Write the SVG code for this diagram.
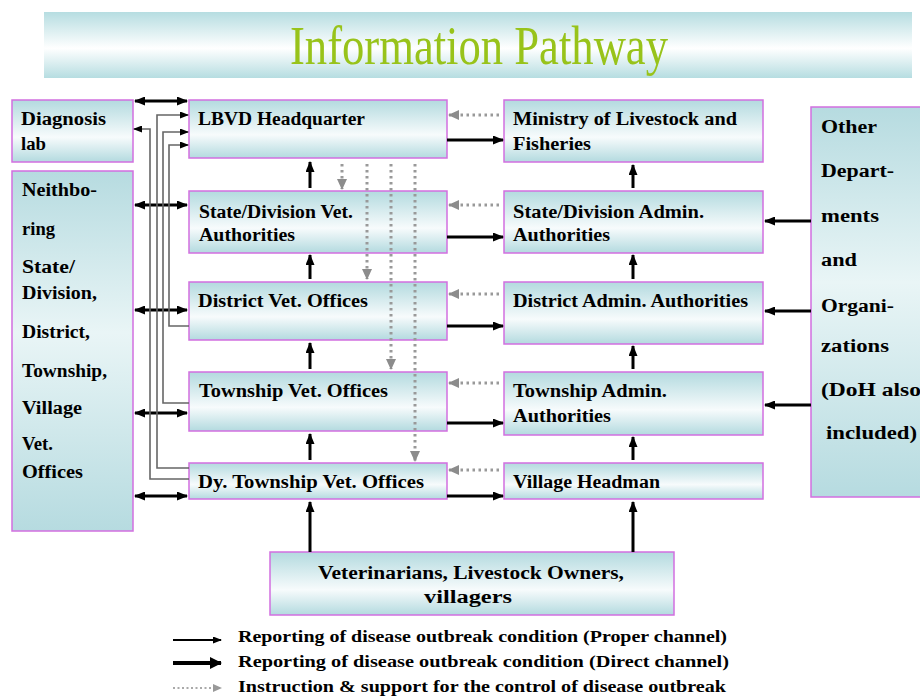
<svg xmlns="http://www.w3.org/2000/svg" width="920" height="696" viewBox="0 0 920 696">
  <defs>
    <linearGradient id="boxFill" x1="0" y1="0" x2="0" y2="1">
      <stop offset="0" stop-color="#b3dadf"/>
      <stop offset="0.6" stop-color="#f7fbfc"/>
      <stop offset="1" stop-color="#b3dadf"/>
    </linearGradient>
    <linearGradient id="tallFill" x1="0" y1="0" x2="0" y2="1">
      <stop offset="0" stop-color="#b6dbe0"/>
      <stop offset="0.45" stop-color="#e9f5f6"/>
      <stop offset="1" stop-color="#b6dbe0"/>
    </linearGradient>
    <linearGradient id="bannerFill" x1="0" y1="0" x2="0" y2="1">
      <stop offset="0" stop-color="#b6dde1"/>
      <stop offset="0.55" stop-color="#ffffff"/>
      <stop offset="1" stop-color="#b6dde1"/>
    </linearGradient>
    <marker id="ah" markerUnits="userSpaceOnUse" markerWidth="11" markerHeight="9" refX="10" refY="4.5" orient="auto-start-reverse">
      <path d="M0,0 L11,4.5 L0,9 z" fill="#000"/>
    </marker>
    <marker id="ahs" markerUnits="userSpaceOnUse" markerWidth="9" markerHeight="7" refX="8" refY="3.5" orient="auto-start-reverse">
      <path d="M0,0 L9,3.5 L0,7 z" fill="#000"/>
    </marker>
    <marker id="ahl" markerUnits="userSpaceOnUse" markerWidth="12" markerHeight="12" refX="11" refY="6" orient="auto">
      <path d="M0,0 L12,6 L0,12 z" fill="#000"/>
    </marker>
    <marker id="ahg" markerUnits="userSpaceOnUse" markerWidth="11" markerHeight="10" refX="10" refY="5" orient="auto">
      <path d="M0,0 L11,5 L0,10 z" fill="#8c8c8c"/>
    </marker>
    <marker id="ahgs" markerUnits="userSpaceOnUse" markerWidth="9" markerHeight="8" refX="8" refY="4" orient="auto">
      <path d="M0,0 L9,4 L0,8 z" fill="#999"/>
    </marker>
  </defs>
  <style>
    .box { fill: url(#boxFill); stroke: #d26fe0; stroke-width: 1.5; }
    .tall { fill: url(#tallFill); stroke: #d26fe0; stroke-width: 1.5; }
    text { font-family: "Liberation Serif", "Times New Roman", serif; }
    .lbl, .side { font-weight: bold; font-size: 18px; fill: #000; }
    .leg { font-weight: bold; font-size: 17px; fill: #000; }
    .solid { stroke: #000; stroke-width: 3; fill: none; marker-end: url(#ah); }
    .both { stroke: #000; stroke-width: 3; fill: none; marker-start: url(#ah); marker-end: url(#ah); }
    .thinarrow { stroke: #666; stroke-width: 1.6; fill: none; marker-end: url(#ahs); }
    .dot { stroke: #999; stroke-width: 3; fill: none; stroke-dasharray: 2.5 3.5; marker-end: url(#ahg); }
  </style>

  <rect width="920" height="696" fill="#ffffff"/>

  <!-- title banner -->
  <g id="title">
    <rect x="44" y="12" width="868" height="66" fill="url(#bannerFill)"/>
    <text x="290" y="64" textLength="378" lengthAdjust="spacingAndGlyphs" font-size="54" fill="#98c31a">Information Pathway</text>
  </g>

  <!-- left side boxes -->
  <g id="diagnosis-lab">
    <rect class="box" x="12" y="100" width="121" height="62"/>
    <text class="lbl" x="21" y="125" textLength="85" lengthAdjust="spacingAndGlyphs">Diagnosis</text>
    <text class="lbl" x="21" y="150" textLength="25" lengthAdjust="spacingAndGlyphs">lab</text>
  </g>
  <g id="neighbouring-offices">
    <rect class="tall" x="12" y="171" width="121" height="360"/>
    <text class="side" x="22" y="196" textLength="75" lengthAdjust="spacingAndGlyphs">Neithbo-</text>
    <text class="side" x="22" y="235" textLength="33" lengthAdjust="spacingAndGlyphs">ring</text>
    <text class="side" x="22" y="273" textLength="53" lengthAdjust="spacingAndGlyphs">State/</text>
    <text class="side" x="22" y="299" textLength="75" lengthAdjust="spacingAndGlyphs">Division,</text>
    <text class="side" x="22" y="338" textLength="68" lengthAdjust="spacingAndGlyphs">District,</text>
    <text class="side" x="22" y="377" textLength="85" lengthAdjust="spacingAndGlyphs">Township,</text>
    <text class="side" x="22" y="414" textLength="60" lengthAdjust="spacingAndGlyphs">Village</text>
    <text class="side" x="22" y="450" textLength="31" lengthAdjust="spacingAndGlyphs">Vet.</text>
    <text class="side" x="22" y="478" textLength="61" lengthAdjust="spacingAndGlyphs">Offices</text>
  </g>

  <!-- veterinary column -->
  <g id="lbvd-hq">
    <rect class="box" x="189" y="100" width="258" height="58"/>
    <text class="lbl" x="198" y="125" textLength="167" lengthAdjust="spacingAndGlyphs">LBVD Headquarter</text>
  </g>
  <g id="state-vet">
    <rect class="box" x="189" y="191" width="258" height="62"/>
    <text class="lbl" x="199" y="218" textLength="154" lengthAdjust="spacingAndGlyphs">State/Division Vet.</text>
    <text class="lbl" x="199" y="241" textLength="96" lengthAdjust="spacingAndGlyphs">Authorities</text>
  </g>
  <g id="district-vet">
    <rect class="box" x="189" y="282" width="258" height="58"/>
    <text class="lbl" x="198" y="307" textLength="170" lengthAdjust="spacingAndGlyphs">District Vet. Offices</text>
  </g>
  <g id="township-vet">
    <rect class="box" x="189" y="372" width="258" height="59"/>
    <text class="lbl" x="199" y="397" textLength="189" lengthAdjust="spacingAndGlyphs">Township Vet. Offices</text>
  </g>
  <g id="dy-township-vet">
    <rect class="box" x="189" y="463" width="258" height="36"/>
    <text class="lbl" x="198" y="488" textLength="226" lengthAdjust="spacingAndGlyphs">Dy. Township Vet. Offices</text>
  </g>

  <!-- administration column -->
  <g id="ministry">
    <rect class="box" x="504" y="100" width="259" height="62"/>
    <text class="lbl" x="513" y="125" textLength="224" lengthAdjust="spacingAndGlyphs">Ministry of Livestock  and</text>
    <text class="lbl" x="513" y="150" textLength="78" lengthAdjust="spacingAndGlyphs">Fisheries</text>
  </g>
  <g id="state-admin">
    <rect class="box" x="504" y="191" width="259" height="62"/>
    <text class="lbl" x="513" y="218" textLength="191" lengthAdjust="spacingAndGlyphs">State/Division Admin.</text>
    <text class="lbl" x="513" y="241" textLength="97" lengthAdjust="spacingAndGlyphs">Authorities</text>
  </g>
  <g id="district-admin">
    <rect class="box" x="504" y="282" width="259" height="62"/>
    <text class="lbl" x="513" y="307" textLength="235" lengthAdjust="spacingAndGlyphs">District Admin. Authorities</text>
  </g>
  <g id="township-admin">
    <rect class="box" x="504" y="372" width="259" height="63"/>
    <text class="lbl" x="513" y="397" textLength="154" lengthAdjust="spacingAndGlyphs">Township Admin.</text>
    <text class="lbl" x="513" y="422" textLength="98" lengthAdjust="spacingAndGlyphs">Authorities</text>
  </g>
  <g id="village-headman">
    <rect class="box" x="504" y="463" width="259" height="36"/>
    <text class="lbl" x="513" y="488" textLength="147" lengthAdjust="spacingAndGlyphs">Village Headman</text>
  </g>

  <!-- other departments -->
  <g id="other-departments">
    <rect class="tall" x="811" y="107" width="115" height="390"/>
    <text class="side" x="821" y="133" textLength="56" lengthAdjust="spacingAndGlyphs">Other</text>
    <text class="side" x="821" y="177" textLength="73" lengthAdjust="spacingAndGlyphs">Depart-</text>
    <text class="side" x="821" y="222" textLength="58" lengthAdjust="spacingAndGlyphs">ments</text>
    <text class="side" x="821" y="266" textLength="36" lengthAdjust="spacingAndGlyphs">and</text>
    <text class="side" x="821" y="312" textLength="73" lengthAdjust="spacingAndGlyphs">Organi-</text>
    <text class="side" x="821" y="352" textLength="68" lengthAdjust="spacingAndGlyphs">zations</text>
    <text class="side" x="821" y="396" textLength="100" lengthAdjust="spacingAndGlyphs">(DoH also</text>
    <text class="side" x="826" y="439" textLength="91" lengthAdjust="spacingAndGlyphs">included)</text>
  </g>

  <!-- field level -->
  <g id="field-level">
    <rect class="box" x="270" y="552" width="404" height="63"/>
    <text class="lbl" x="318" y="579" textLength="306" lengthAdjust="spacingAndGlyphs">Veterinarians, Livestock Owners,</text>
    <text class="lbl" x="424" y="603" textLength="88" lengthAdjust="spacingAndGlyphs">villagers</text>
  </g>

  <g id="connectors">
    <!-- upward reporting, veterinary column -->
    <line class="solid" x1="310" y1="188" x2="310" y2="162"/>
    <line class="solid" x1="310" y1="279" x2="310" y2="255"/>
    <line class="solid" x1="310" y1="369" x2="310" y2="343"/>
    <line class="solid" x1="310" y1="460" x2="310" y2="434"/>
    <line class="solid" x1="310" y1="552" x2="310" y2="502"/>
    <!-- upward reporting, administration column -->
    <line class="solid" x1="633" y1="188" x2="633" y2="165"/>
    <line class="solid" x1="633" y1="279" x2="633" y2="255"/>
    <line class="solid" x1="633" y1="369" x2="633" y2="346"/>
    <line class="solid" x1="633" y1="460" x2="633" y2="437"/>
    <line class="solid" x1="633" y1="552" x2="633" y2="502"/>
    <!-- vet to admin -->
    <line class="solid" x1="447" y1="140" x2="503" y2="140"/>
    <line class="solid" x1="447" y1="237" x2="503" y2="237"/>
    <line class="solid" x1="447" y1="326" x2="503" y2="326"/>
    <line class="solid" x1="447" y1="423" x2="503" y2="423"/>
    <line class="solid" x1="447" y1="496" x2="503" y2="496"/>
    <!-- admin instructions back to vet column -->
    <line class="dot" x1="499" y1="115" x2="449" y2="115"/>
    <line class="dot" x1="499" y1="205" x2="449" y2="205"/>
    <line class="dot" x1="499" y1="294" x2="449" y2="294"/>
    <line class="dot" x1="499" y1="383" x2="449" y2="383"/>
    <line class="dot" x1="499" y1="470" x2="449" y2="470"/>
    <!-- headquarter instructions down the chain -->
    <line class="dot" x1="342" y1="164" x2="342" y2="189"/>
    <line class="dot" x1="367" y1="164" x2="367" y2="279"/>
    <line class="dot" x1="391" y1="164" x2="391" y2="369"/>
    <line class="dot" x1="415" y1="164" x2="415" y2="461"/>
    <!-- other departments to admin -->
    <line class="solid" x1="811" y1="221" x2="765" y2="221"/>
    <line class="solid" x1="811" y1="311" x2="765" y2="311"/>
    <line class="solid" x1="811" y1="405" x2="765" y2="405"/>
    <!-- neighbouring / lab exchanges -->
    <line class="both" x1="135" y1="101" x2="187" y2="101"/>
    <line class="both" x1="135" y1="205" x2="187" y2="205"/>
    <line class="both" x1="135" y1="310" x2="187" y2="310"/>
    <line class="both" x1="135" y1="413" x2="187" y2="413"/>
    <line class="both" x1="135" y1="496" x2="187" y2="496"/>
    <!-- direct channels to headquarter and lab -->
    <path class="thinarrow" d="M189,479 H150 V129 H134"/>
    <path class="thinarrow" d="M189,468 H157 V115 H188"/>
    <path class="thinarrow" d="M189,403 H163 V132 H188"/>
    <path class="thinarrow" d="M189,326 H169 V145 H188"/>
  </g>

  <!-- legend -->
  <g id="legend">
    <line x1="173" y1="640" x2="221" y2="640" stroke="#000" stroke-width="2.2" marker-end="url(#ahs)"/>
    <text class="leg" x="238" y="642" textLength="489" lengthAdjust="spacingAndGlyphs">Reporting of disease outbreak condition (Proper channel)</text>
    <line x1="173" y1="663" x2="221" y2="663" stroke="#000" stroke-width="4" marker-end="url(#ahl)"/>
    <text class="leg" x="238" y="667" textLength="491" lengthAdjust="spacingAndGlyphs">Reporting of disease outbreak condition (Direct channel)</text>
    <line x1="173" y1="688" x2="221" y2="688" stroke="#aaa" stroke-width="2" stroke-dasharray="2 2.5" marker-end="url(#ahgs)"/>
    <text class="leg" x="238" y="692" textLength="488" lengthAdjust="spacingAndGlyphs">Instruction &amp; support for the control of disease outbreak</text>
  </g>
</svg>
